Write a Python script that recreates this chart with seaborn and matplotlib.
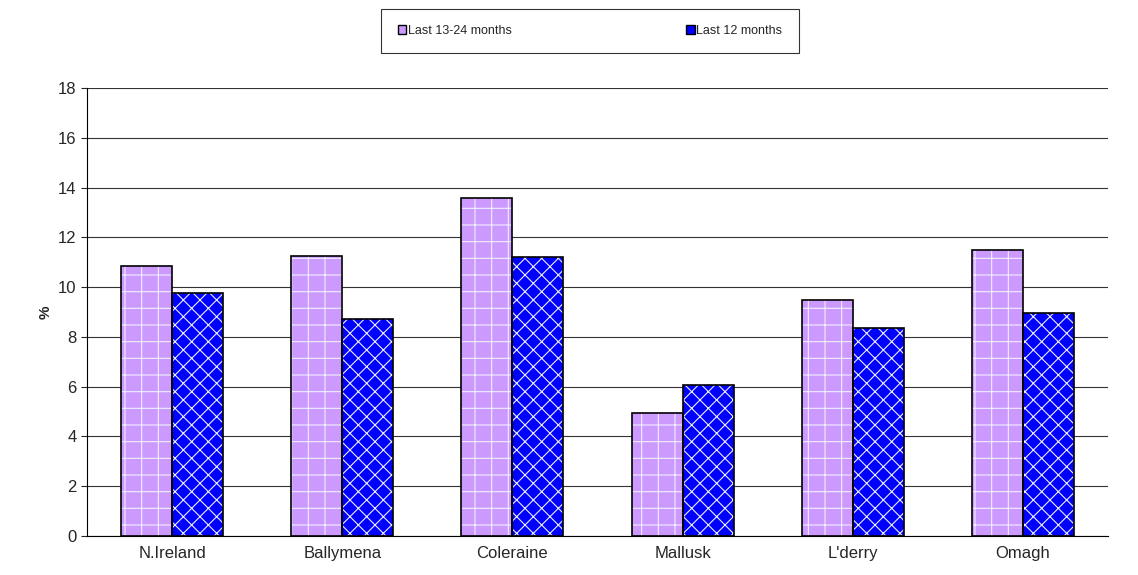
import matplotlib
matplotlib.use("Agg")
import matplotlib.pyplot as plt
import seaborn as sns
import pandas as pd
from matplotlib.patches import Patch

categories = ["N.Ireland", "Ballymena", "Coleraine", "Mallusk", "L'derry", "Omagh"]
last_13_24 = [10.85, 11.25, 13.6, 4.95, 9.5, 11.5]
last_12 = [9.75, 8.7, 11.2, 6.05, 8.35, 8.95]
series = ["Last 13-24 months", "Last 12 months"]
colors = ["#CC99FF", "#0000FF"]
hatches = ["+", "xx"]

df = pd.DataFrame({"cat": categories * 2,
                   "series": [series[0]] * 6 + [series[1]] * 6,
                   "val": last_13_24 + last_12})

sns.set_style("white")
plt.rcParams["font.family"] = ["Liberation Sans", "DejaVu Sans"]
plt.rcParams["hatch.color"] = "#DDDDFF"
plt.rcParams["hatch.linewidth"] = 0.8

fig = plt.figure(figsize=(11.38, 5.75), dpi=100)
ax = fig.add_axes([87/1138, 1-536/575, (1108-87)/1138, (536-88)/575])
sns.barplot(data=df, x="cat", y="val", hue="series", palette=colors,
            width=0.6, gap=0, ax=ax, legend=False, saturation=1)
for cont, h in zip(ax.containers, hatches):
    for p in cont:
        p.set_hatch(h)
        p.set_edgecolor("#EEEEFF")
        p.set_linewidth(0)
        x, y = p.get_xy()
        ax.add_patch(plt.Rectangle((x, y), p.get_width(), p.get_height(),
                                   fill=False, edgecolor="black", linewidth=1.2, zorder=3))
ax.set_ylim(0, 18)
ax.set_yticks(range(0, 19, 2))
ax.yaxis.grid(True, color="#333333", linewidth=0.8)
ax.set_axisbelow(True)
ax.set_xlabel("")
ax.set_ylabel("%", fontsize=11, fontweight="bold")
ax.tick_params(axis="both", labelsize=12, length=4, direction="out", left=True, bottom=False)
for s in ["top", "right"]:
    ax.spines[s].set_visible(False)
for s in ["left", "bottom"]:
    ax.spines[s].set_color("black")
handles = [Patch(facecolor=c, edgecolor="black") for c in colors]
leg = fig.legend(handles, series, loc="center", bbox_to_anchor=(590/1138, 1-31/575),
                 ncol=2, frameon=True, fancybox=False, edgecolor="black",
                 fontsize=9, columnspacing=14, handlelength=0.7, handleheight=0.7,
                 handletextpad=0.1, borderpad=1.3, borderaxespad=0)
leg.get_frame().set_linewidth(0.8)
fig.canvas.draw()
bb = leg.get_window_extent()
extra = (574 - bb.width) / 2
leg._legend_box.set_offset  # keep
frame = leg.get_frame()
frame.set_bounds(303, 575 - 54, 574, 46)
frame.set_transform(None)
fig.savefig("out.png", dpi=100)
